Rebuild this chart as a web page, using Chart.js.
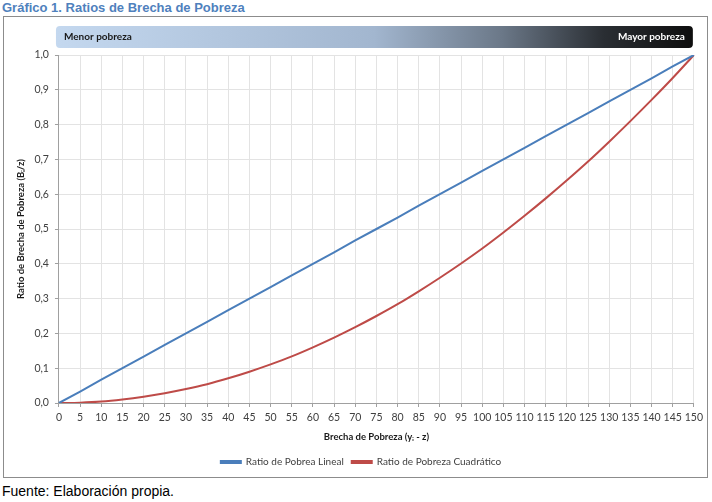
<!DOCTYPE html>
<html>
<head>
<meta charset="utf-8">
<script src="https://cdn.jsdelivr.net/npm/chart.js@4/dist/chart.umd.min.js"></script>
<style>
  body { margin: 0; background: #fff; width: 712px; height: 502px; position: relative; overflow: hidden; }
  #titulo { position: absolute; left: 2px; top: 0px; font: bold 13px "Liberation Sans", Arial, sans-serif; color: #4f81bd; }
  #marco { position: absolute; left: 3px; top: 16px; width: 703px; height: 460px; border: 1px solid #8c8c8c; }
  #fuente { position: absolute; left: 2px; top: 483px; font: 14px "Liberation Sans", Arial, sans-serif; color: #000; }
</style>
</head>
<body>
<div id="titulo">Gráfico 1. Ratios de Brecha de Pobreza</div>
<div id="marco"><canvas id="grafico" width="703" height="460"></canvas></div>
<div id="fuente">Fuente: Elaboración propia.</div>
<script>
// brecha de pobreza (eje x)
var brecha = [0, 5, 10, 15, 20, 25, 30, 35, 40, 45, 50, 55, 60, 65, 70, 75,
  80, 85, 90, 95, 100, 105, 110, 115, 120, 125, 130, 135, 140, 145, 150];

// ratio lineal (azul)
var ratioLineal = [0, 0.033, 0.067, 0.100, 0.133, 0.167, 0.200, 0.233, 0.267, 0.300,
  0.333, 0.367, 0.400, 0.433, 0.467, 0.500, 0.533, 0.567, 0.600, 0.633,
  0.667, 0.700, 0.733, 0.767, 0.800, 0.833, 0.867, 0.900, 0.933, 0.967, 1.000];

// ratio cuadratico (rojo)
var ratioCuadratico = [0, 0.001, 0.004, 0.010, 0.018, 0.028, 0.040, 0.054, 0.071, 0.090,
  0.111, 0.134, 0.160, 0.188, 0.218, 0.250, 0.284, 0.321, 0.360, 0.401,
  0.444, 0.490, 0.538, 0.588, 0.640, 0.694, 0.751, 0.810, 0.871, 0.934, 1.000];

var fuenteEje = 'Lato, "Open Sans", sans-serif';

// banda "Menor pobreza" -> "Mayor pobreza" encima del area de trazado
var bandaPlugin = {
  id: 'banda',
  beforeDraw: function (chart) {
    var ctx = chart.ctx;
    var a = chart.chartArea;
    var x0 = a.left - 3, x1 = a.right - 1, y0 = 9, h = 22, r = 4;
    var g = ctx.createLinearGradient(x0, 0, x1, 0);
    g.addColorStop(0, '#c4d8ef');
    g.addColorStop(0.5, '#a2b6cf');
    g.addColorStop(0.7, '#6b7888');
    g.addColorStop(0.86, '#2a2e33');
    g.addColorStop(1, '#0e0e0e');
    ctx.save();
    ctx.fillStyle = g;
    ctx.beginPath();
    ctx.moveTo(x0 + r, y0);
    ctx.lineTo(x1 - r, y0);
    ctx.quadraticCurveTo(x1, y0, x1, y0 + r);
    ctx.lineTo(x1, y0 + h - r);
    ctx.quadraticCurveTo(x1, y0 + h, x1 - r, y0 + h);
    ctx.lineTo(x0 + r, y0 + h);
    ctx.quadraticCurveTo(x0, y0 + h, x0, y0 + h - r);
    ctx.lineTo(x0, y0 + r);
    ctx.quadraticCurveTo(x0, y0, x0 + r, y0);
    ctx.fill();
    ctx.font = 'bold 10px ' + fuenteEje;
    ctx.textBaseline = 'middle';
    ctx.fillStyle = '#1a1a1a';
    ctx.textAlign = 'left';
    ctx.fillText('Menor pobreza', x0 + 8, y0 + h / 2);
    ctx.fillStyle = '#ffffff';
    ctx.textAlign = 'right';
    ctx.fillText('Mayor pobreza', x1 - 8, y0 + h / 2);
    ctx.restore();
  }
};

var ctx = document.getElementById('grafico').getContext('2d');
var chart = new Chart(ctx, {
  type: 'line',
  data: {
    labels: brecha,
    datasets: [{
      label: 'Ratio de Pobrea Lineal',
      data: ratioLineal,
      borderColor: '#4a7ebb',
      backgroundColor: '#4a7ebb',
      borderWidth: 2,
      pointRadius: 0,
      tension: 0
    }, {
      label: 'Ratio de Pobreza Cuadrático',
      data: ratioCuadratico,
      borderColor: '#be4b48',
      backgroundColor: '#be4b48',
      borderWidth: 2,
      pointRadius: 0,
      tension: 0.3
    }]
  },
  options: {
    responsive: false,
    animation: false,
    layout: { padding: { top: 38, right: 0, left: 11, bottom: 0 } },
    plugins: {
      legend: {
        position: 'bottom',
        labels: {
          boxWidth: 20,
          boxHeight: 2,
          padding: 8,
          color: '#404040',
          font: { family: fuenteEje, size: 10 }
        }
      },
      tooltip: { enabled: false }
    },
    scales: {
      x: {
        grid: { color: '#e3e3e3', tickLength: 4, tickColor: '#a0a0a0' },
        border: { color: '#a0a0a0' },
        ticks: { color: '#404040', font: { family: fuenteEje, size: 10.5 }, maxRotation: 0, autoSkip: false, padding: 4 },
        title: { display: true, text: 'Brecha de Pobreza (yᵢ - z)', color: '#1a1a1a', font: { family: fuenteEje, size: 9.5, weight: 'bold' }, padding: { top: 4, bottom: 6 } }
      },
      y: {
        min: 0,
        max: 1,
        grid: { color: '#e3e3e3', tickLength: 4, tickColor: '#a0a0a0' },
        border: { color: '#a0a0a0' },
        ticks: {
          stepSize: 0.1,
          color: '#404040',
          font: { family: fuenteEje, size: 10.5 },
          padding: 6,
          callback: function (v) { return v.toFixed(1).replace('.', ','); }
        },
        title: { display: true, text: 'Ratio de Brecha de Pobreza (Bᵢ/z)', color: '#1a1a1a', font: { family: fuenteEje, size: 9.5, weight: 'bold' }, padding: { top: 0, bottom: 2 } }
      }
    }
  },
  plugins: [bandaPlugin]
});
</script>
</body>
</html>
